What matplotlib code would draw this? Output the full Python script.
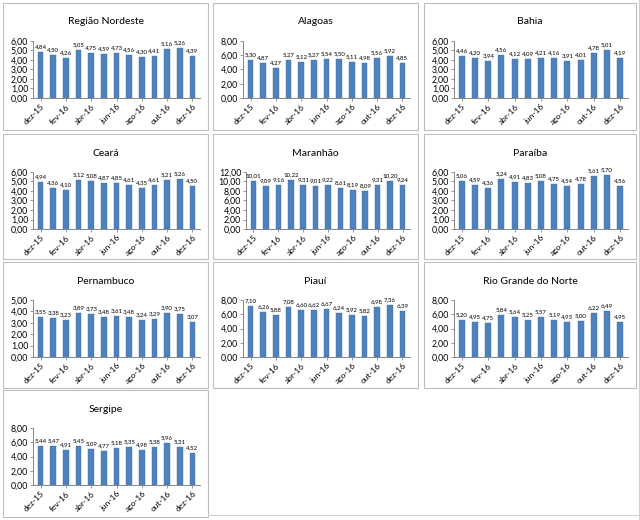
import matplotlib
matplotlib.use("Agg")
import matplotlib.pyplot as plt
from matplotlib.lines import Line2D
from matplotlib.patches import Rectangle

plt.rcParams["font.family"] = ["Lato", "DejaVu Sans"]

# ---------------------------------------------------------------------------
# Data
# ---------------------------------------------------------------------------
months = ["dez-15", "jan-16", "fev-16", "mar-16", "abr-16", "mai-16", "jun-16",
          "jul-16", "ago-16", "set-16", "out-16", "nov-16", "dez-16"]

nordeste = [4.84, 4.50, 4.26, 5.05, 4.75, 4.59, 4.73, 4.56, 4.30, 4.41, 5.16, 5.26, 4.39]
alagoas = [5.30, 4.87, 4.27, 5.27, 5.12, 5.27, 5.54, 5.50, 5.11, 4.98, 5.56, 5.92, 4.85]
bahia = [4.46, 4.20, 3.94, 4.56, 4.12, 4.09, 4.21, 4.16, 3.91, 4.01, 4.78, 5.01, 4.19]
ceara = [4.94, 4.36, 4.10, 5.12, 5.08, 4.87, 4.85, 4.61, 4.35, 4.61, 5.21, 5.26, 4.50]
maranhao = [10.01, 9.09, 9.16, 10.22, 9.31, 9.01, 9.22, 8.61, 8.19, 8.09, 9.31, 10.20, 9.24]
paraiba = [5.06, 4.59, 4.36, 5.24, 4.91, 4.83, 5.08, 4.75, 4.54, 4.78, 5.61, 5.70, 4.56]
pernambuco = [3.55, 3.38, 3.23, 3.89, 3.73, 3.48, 3.61, 3.48, 3.24, 3.29, 3.90, 3.75, 3.07]
piaui = [7.10, 6.26, 5.88, 7.08, 6.60, 6.62, 6.67, 6.24, 5.92, 5.82, 6.98, 7.36, 6.39]
rn = [5.20, 4.95, 4.75, 5.84, 5.64, 5.25, 5.57, 5.19, 4.93, 5.00, 6.22, 6.49, 4.95]
sergipe = [5.44, 5.47, 4.91, 5.45, 5.09, 4.77, 5.18, 5.35, 4.98, 5.38, 5.96, 5.31, 4.52]

titles = ["Região Nordeste", "Alagoas", "Bahia", "Ceará", "Maranhão", "Paraíba",
          "Pernambuco", "Piauí", "Rio Grande do Norte", "Sergipe"]
series = [nordeste, alagoas, bahia, ceara, maranhao, paraiba,
          pernambuco, piaui, rn, sergipe]
y_max = [6, 8, 6, 6, 12, 6, 5, 8, 8, 8]
y_step = [1, 2, 1, 1, 2, 1, 1, 2, 2, 2]

# ---------------------------------------------------------------------------
# Layout (pixel boxes of each chart frame)
# ---------------------------------------------------------------------------
W, H = 640, 520
col_x = [(3, 208), (213, 418), (424, 636)]
row_y = [(3, 130), (134, 259), (262, 388), (390, 517)]
BAR = "#4F81BD"
FRAME = "#BFBFBF"


def fig_rect(x0, y0, x1, y1):
    return [x0 / W, 1 - y1 / H, (x1 - x0) / W, (y1 - y0) / H]


fig = plt.figure(figsize=(6.4, 5.2), dpi=100)

# faint outer sheet border (screenshot edge)
fig.lines.append(Line2D([639 / W, 639 / W], [0, 1], transform=fig.transFigure,
                        color="#D0D0D0", lw=0.8))
fig.lines.append(Line2D([208 / W, 1], [1 - 515 / H, 1 - 515 / H],
                        transform=fig.transFigure, color="#D0D0D0", lw=0.8))

for i, (title, vals) in enumerate(zip(titles, series)):
    r, c = divmod(i, 3)
    bx0, bx1 = col_x[c]
    by0, by1 = row_y[r]

    fig.patches.append(Rectangle((bx0 / W, 1 - by1 / H), (bx1 - bx0) / W,
                                 (by1 - by0) / H, transform=fig.transFigure,
                                 fill=False, edgecolor=FRAME, lw=0.8))
    fig.text((bx0 + bx1) / 2 / W, 1 - (by0 + 19) / H, title,
             ha="center", va="center", fontsize=7.5, color="#000000")

    left_pad = 33 if y_max[i] >= 10 else 30
    ax = fig.add_axes(fig_rect(bx0 + left_pad, by0 + 38, bx1 - 8, by0 + 95))
    x = list(range(len(vals)))
    ax.bar(x, vals, width=0.45, color=BAR, edgecolor="#3F6FA8", lw=0.3)
    for xi, v in zip(x, vals):
        ax.annotate(f"{v:.2f}".replace(".", ","), (xi, v),
                    xytext=(0, 2), textcoords="offset points",
                    ha="center", va="bottom", fontsize=4.4)

    ax.set_xlim(-0.6, len(vals) - 0.4)
    ax.set_ylim(0, y_max[i])
    ticks = list(range(0, y_max[i] + 1, y_step[i]))
    ax.set_yticks(ticks)
    ax.set_yticklabels([f"{t:.2f}".replace(".", ",") for t in ticks], fontsize=6.3)
    ax.set_xticks(x[::2])
    ax.set_xticklabels(months[::2], rotation=45, ha="right",
                       rotation_mode="anchor", fontsize=6)
    ax.tick_params(axis="both", length=2, width=0.6, color="#868686", pad=1.5)
    for side in ("top", "right"):
        ax.spines[side].set_visible(False)
    for side in ("left", "bottom"):
        ax.spines[side].set_color("#868686")
        ax.spines[side].set_linewidth(0.7)

fig.savefig("out.png", dpi=100, facecolor="white")
